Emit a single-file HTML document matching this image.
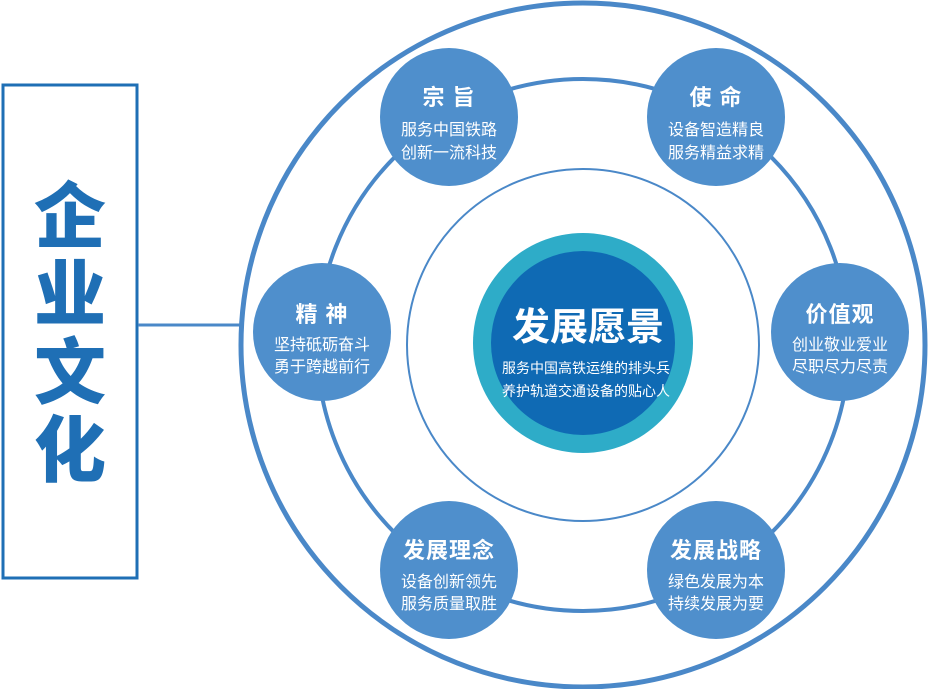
<!DOCTYPE html>
<html><head><meta charset="utf-8"><style>
body{margin:0;background:#fff;width:929px;height:689px;overflow:hidden}
svg{display:block}
text{font-family:"Liberation Sans","Noto Sans CJK SC",sans-serif;fill:#fff;text-anchor:middle}
.t{font-size:22px;font-weight:bold;letter-spacing:1px}
.s{font-size:16px}
.big{fill:#1f6fb5;font-size:72px;font-weight:900}
</style></head><body>
<svg width="929" height="689" viewBox="0 0 929 689">
<rect x="3" y="85" width="134" height="493" fill="#fff" stroke="#1f6fb5" stroke-width="3"/>
<text x="70" y="242" class="big">企</text>
<text x="70" y="320" class="big">业</text>
<text x="70" y="398" class="big">文</text>
<text x="70" y="476" class="big">化</text>
<line x1="138" y1="325" x2="242" y2="325" stroke="#4a88c8" stroke-width="3"/>
<circle cx="583" cy="345" r="342" fill="none" stroke="#4a88c8" stroke-width="5"/>
<circle cx="583" cy="345" r="266" fill="none" stroke="#4a88c8" stroke-width="4"/>
<circle cx="583" cy="345" r="176" fill="none" stroke="#4a88c8" stroke-width="2"/>
<circle cx="583" cy="343" r="110" fill="#2eacc8"/>
<circle cx="583" cy="343" r="92" fill="#0f6ab4"/>
<text x="588" y="340" style="font-size:38px;font-weight:bold">发展愿景</text>
<text x="586" y="373" style="font-size:14px">服务中国高铁运维的排头兵</text>
<text x="586" y="396" style="font-size:14px">养护轨道交通设备的贴心人</text>
<circle cx="449" cy="117" r="69" fill="#4f8fcc"/>
<text x="449" y="105" class="t">宗 旨</text>
<text x="449" y="135" class="s">服务中国铁路</text>
<text x="449" y="158" class="s">创新一流科技</text>
<circle cx="716" cy="117" r="69" fill="#4f8fcc"/>
<text x="716" y="105" class="t">使 命</text>
<text x="716" y="135" class="s">设备智造精良</text>
<text x="716" y="158" class="s">服务精益求精</text>
<circle cx="322" cy="332" r="69" fill="#4f8fcc"/>
<text x="322" y="322" class="t">精 神</text>
<text x="322" y="350" class="s">坚持砥砺奋斗</text>
<text x="322" y="372" class="s">勇于跨越前行</text>
<circle cx="840" cy="332" r="69" fill="#4f8fcc"/>
<text x="840" y="322" class="t">价值观</text>
<text x="840" y="350" class="s">创业敬业爱业</text>
<text x="840" y="372" class="s">尽职尽力尽责</text>
<circle cx="449" cy="570" r="69" fill="#4f8fcc"/>
<text x="449" y="558" class="t">发展理念</text>
<text x="449" y="587" class="s">设备创新领先</text>
<text x="449" y="609" class="s">服务质量取胜</text>
<circle cx="716" cy="570" r="69" fill="#4f8fcc"/>
<text x="716" y="558" class="t">发展战略</text>
<text x="716" y="587" class="s">绿色发展为本</text>
<text x="716" y="609" class="s">持续发展为要</text>
</svg>
</body></html>
